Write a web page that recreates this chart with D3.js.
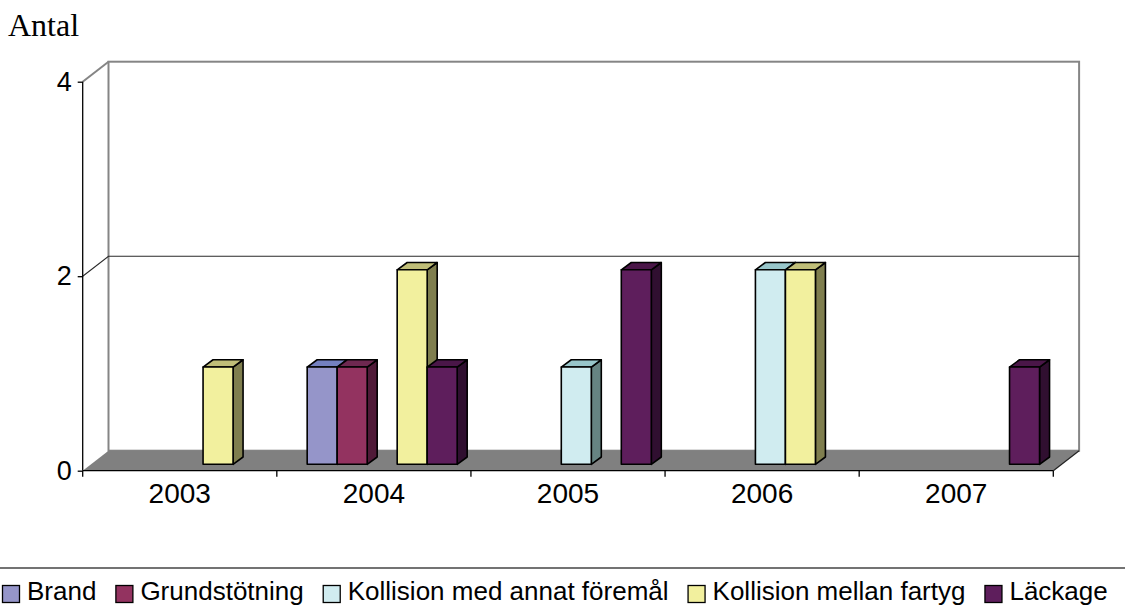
<!DOCTYPE html>
<html><head><meta charset="utf-8">
<script src="https://cdn.jsdelivr.net/npm/d3@7/dist/d3.min.js"></script>
<style>
html,body{margin:0;padding:0;background:#fff;}
svg{display:block;}
</style></head>
<body>
<script>
const years = ["2003","2004","2005","2006","2007"];
const seriesNames = ["Brand","Grundstötning","Kollision med annat föremål","Kollision mellan fartyg","Läckage"];
const brand = [0,1,0,0,0];
const grundstotning = [0,1,0,0,0];
const kollisionAnnat = [0,0,1,2,0];
const kollisionFartyg = [1,2,0,2,0];
const lackage = [0,1,2,0,1];
const yTicks = [0,2,4];
const yTitle = "Antal";

const seriesValues = [brand, grundstotning, kollisionAnnat, kollisionFartyg, lackage];
const frontCol = ["#9595C9","#933360","#D0ECF0","#F2F09E","#5E1E5C"];
const topCol   = ["#7480C0","#6E2850","#98C6CA","#C0BE78","#4A1648"];
const sideCol  = ["#5E5E8C","#501A38","#668482","#7F7E4E","#300F30"];
const SANS = '"Liberation Sans", Arial, sans-serif';
const SERIF = '"Liberation Serif", "Times New Roman", serif';

const W = 1125, H = 607;
const svg = d3.select("body").append("svg").attr("width", W).attr("height", H);

const x0 = 82.7, x1 = 1053.3, yBase = 470.7, yTop = 81.7;
const DX = 25.8, DY = -20;
const x = d3.scaleBand().domain(years).range([x0, x1]).padding(0);
const y = d3.scaleLinear().domain([0,4]).range([yBase, yTop]);

// walls
const backL = x0 + DX, backR = x1 + DX;
svg.append("polygon")
  .attr("points", [[x0,y(4)],[backL,y(4)+DY],[backL,y(0)+DY],[x0,y(0)]].join(" "))
  .attr("fill","#fff");
svg.append("rect").attr("x",backL).attr("y",y(4)+DY).attr("width",backR-backL).attr("height",y(0)-y(4))
  .attr("fill","#fff").attr("stroke","#858585").attr("stroke-width",2);
svg.append("line").attr("x1",x0).attr("y1",y(4)).attr("x2",backL).attr("y2",y(4)+DY)
  .attr("stroke","#858585").attr("stroke-width",2);

// gridline at 2
svg.append("polyline")
  .attr("points", [[x0,y(2)],[backL,y(2)+DY],[backR,y(2)+DY]].join(" "))
  .attr("fill","none").attr("stroke","#2a2a2a").attr("stroke-width",1.1);

// floor
svg.append("polygon")
  .attr("points", [[x0,yBase],[x1,yBase],[backR,yBase+DY],[backL,yBase+DY]].join(" "))
  .attr("fill","#808080");
svg.append("line").attr("x1",x1).attr("y1",yBase).attr("x2",backR).attr("y2",yBase+DY)
  .attr("stroke","#222").attr("stroke-width",1.2);

// axes
const yAxis = d3.axisLeft(y).tickValues(yTicks).tickSize(5).tickPadding(6).tickFormat(d3.format("d"));
const gy = svg.append("g").attr("transform",`translate(${x0},0)`).call(yAxis);
gy.select(".domain").attr("stroke","#000").attr("stroke-width",1.3).attr("d",`M0,${yTop}V${yBase}`);
gy.selectAll(".tick line").attr("stroke","#000").attr("stroke-width",1.3);
gy.selectAll(".tick text").style("font-size","27px").style("font-family",SANS).attr("fill","#000");

const xAxis = d3.axisBottom(x).tickSize(0).tickPadding(12);
const gx = svg.append("g").attr("transform",`translate(0,${yBase})`).call(xAxis);
gx.select(".domain").attr("stroke","#000").attr("stroke-width",1.3).attr("d",`M${x0},0H${x1}`);
gx.selectAll(".tick text").style("font-size","28px").style("font-family",SANS).attr("fill","#000").attr("dy","0.72em");
const bounds = years.map(d => x(d)).concat([x(years[years.length-1]) + x.bandwidth()]);
gx.selectAll("line.bt").data(bounds).enter().append("line").attr("class","bt")
  .attr("x1",d=>d).attr("x2",d=>d).attr("y1",0).attr("y2",6)
  .attr("stroke","#000").attr("stroke-width",1.3);

// bars
const fx = 8.3, fy = -6.4, bx = 10, by = -7.3;
const clusterW = 150;
const xs = d3.scaleBand().domain(d3.range(seriesNames.length)).range([0, clusterW]).padding(0);
const gb = svg.append("g");
years.forEach((yr, i) => {
  seriesNames.forEach((s, j) => {
    const v = seriesValues[j][i];
    if (!v) return;
    const left = x(yr) + (x.bandwidth() - clusterW)/2 + xs(j) + fx;
    const right = left + xs.bandwidth();
    const bot = y(0) + fy, top = y(v) + fy;
    const g = gb.append("g").attr("stroke","#000").attr("stroke-width",1.6).attr("stroke-linejoin","round");
    g.append("polygon").attr("points",[[right,top],[right+bx,top+by],[right+bx,bot+by],[right,bot]].join(" ")).attr("fill",sideCol[j]);
    g.append("polygon").attr("points",[[left,top],[left+bx,top+by],[right+bx,top+by],[right,top]].join(" ")).attr("fill",topCol[j]);
    g.append("rect").attr("x",left).attr("y",top).attr("width",right-left).attr("height",bot-top).attr("fill",frontCol[j]);
  });
});

// y title
svg.append("text").attr("x",8).attr("y",36).text(yTitle)
  .style("font-family",SERIF).style("font-size","32px").attr("fill","#000");

// legend
svg.append("line").attr("x1",0).attr("x2",W).attr("y1",568).attr("y2",568).attr("stroke","#444").attr("stroke-width",1.5);
const lg = svg.append("g");
let cx = 2;
const gap = 19;
seriesNames.forEach((s, j) => {
  lg.append("rect").attr("x",cx+0.5).attr("y",585.5).attr("width",17).attr("height",17)
    .attr("fill",frontCol[j]).attr("stroke","#000").attr("stroke-width",1.3);
  const t = lg.append("text").attr("x",cx+25).attr("y",599.5).text(s)
    .style("font-size","26px").style("font-family",SANS).attr("fill","#000");
  cx = cx + 25 + t.node().getComputedTextLength() + gap;
});
</script>
</body></html>
